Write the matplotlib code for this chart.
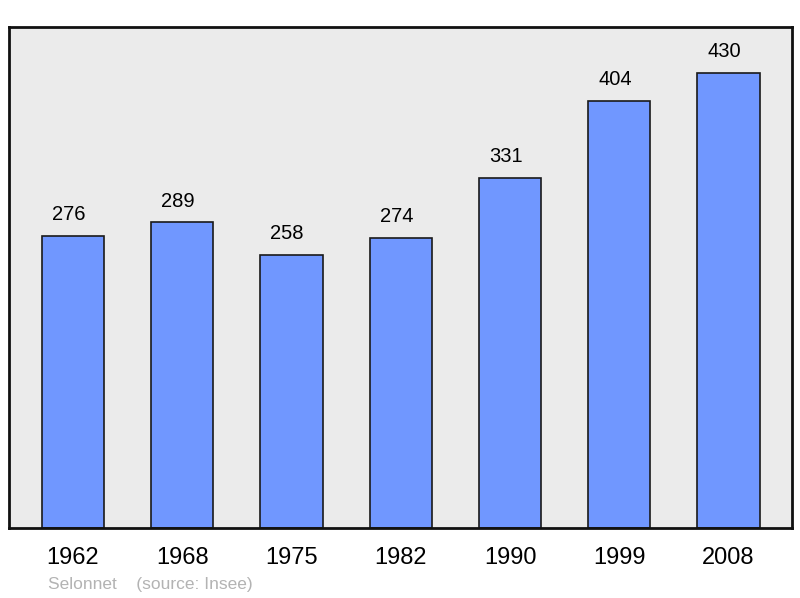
import matplotlib.pyplot as plt

years = ['1962', '1968', '1975', '1982', '1990', '1999', '2008']
population = [276, 289, 258, 274, 331, 404, 430]

plt.rcParams['font.family'] = ['Liberation Sans', 'DejaVu Sans']

fig = plt.figure(figsize=(8, 5.98), dpi=100)
ax = fig.add_axes([9 / 800, 70 / 598, 783 / 800, 501 / 598])
ax.set_facecolor('#ebebeb')

xs = range(len(years))
ax.bar(xs, population, width=0.57, color='#7097ff', edgecolor='#1a1a1a', linewidth=1.2)
for x, v in zip(xs, population):
    ax.text(x - 0.04, v + 11, str(v), ha='center', va='bottom', fontsize=14.5)

ax.set_xlim(-0.585, 6.58)
ax.set_ylim(0, 473.5)
ax.set_yticks([])
ax.set_xticks(list(xs))
ax.set_xticklabels(years, fontsize=17)
ax.tick_params(axis='x', length=0, pad=14)
for s in ax.spines.values():
    s.set_linewidth(2)
    s.set_color('#111111')

fig.text(48 / 800, 1 - 584 / 598, 'Selonnet    (source: Insee)', color='#b3b3b3',
         fontsize=12.5, ha='left', va='center')

fig.savefig('out.png', dpi=100)
